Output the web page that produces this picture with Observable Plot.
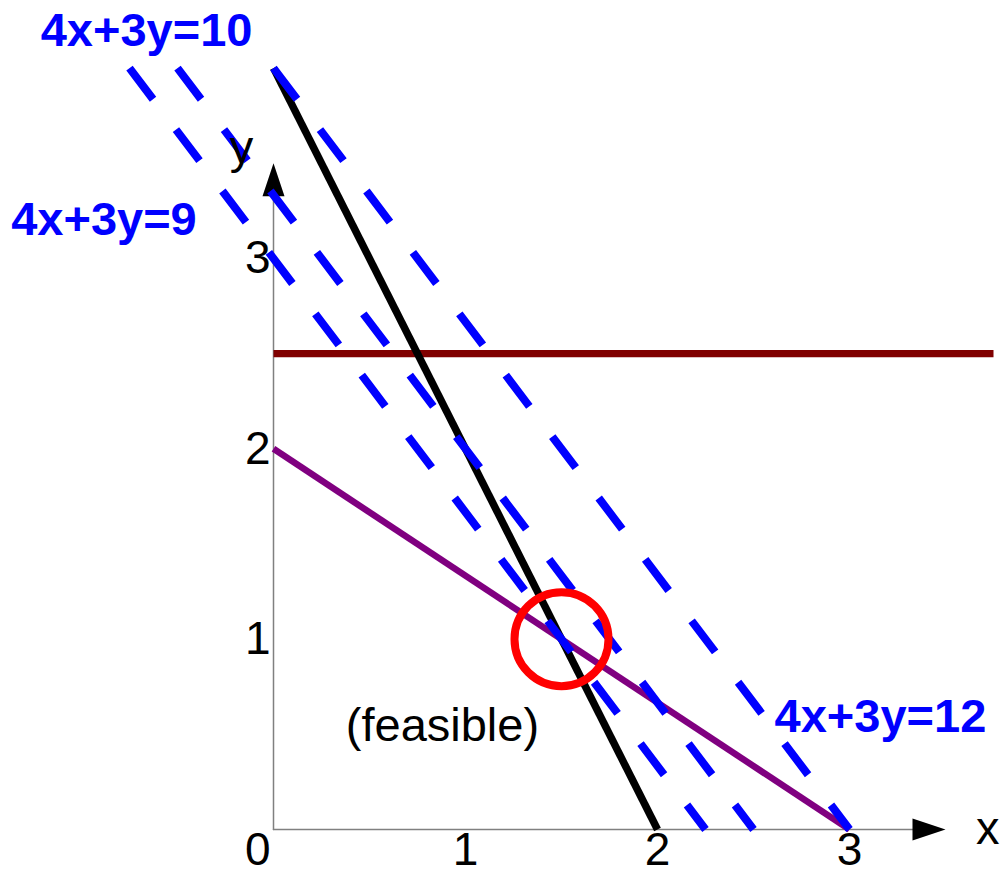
<!DOCTYPE html>
<html>
<head>
<meta charset="utf-8">
<script src="https://cdn.jsdelivr.net/npm/d3@7"></script>
<script src="https://cdn.jsdelivr.net/npm/@observablehq/plot@0.6"></script>
<style>
  html, body { margin: 0; padding: 0; background: white; }
  #chart svg { display: block; }
</style>
</head>
<body>
<div id="chart"></div>
<script>
// ---- data ----
const xTicks = [1, 2, 3];
const yTicks = [1, 2, 3];
const originLabel = [{x: 0, y: 0, text: "0"}];

// constraint lines (endpoints)
const blackLine  = [{x: 0, y: 4}, {x: 2, y: 0}];         // 2x + y = 4
const purpleLine = [{x: 0, y: 2}, {x: 3, y: 0}];         // 2x + 3y = 6
const darkRedLine = [{x: 0, y: 2.5}, {x: 3.75, y: 2.5}]; // y = 2.5

// objective level lines (dashed)
const level9  = [{x: -0.75, y: 4}, {x: 2.25, y: 0}];
const level10 = [{x: -0.5,  y: 4}, {x: 2.5,  y: 0}];
const level12 = [{x: 0,     y: 4}, {x: 3,    y: 0}];

// optimum
const optimum = [{x: 1.5, y: 1}];

// axes
const xAxisLine = [{x: 0, y: 0}, {x: 3.33, y: 0}];
const yAxisLine = [{x: 0, y: 0}, {x: 0, y: 3.34}];
const arrowTips = [{x: 3.5, y: 0, rot: 0}, {x: 0, y: 3.5, rot: -90}];

// labels
const levelLabels = [
  {x: -0.661, y: 4.116, text: "4x+3y=10"},
  {x: -0.883, y: 3.126, text: "4x+3y=9"},
  {x: 3.161,  y: 0.511, text: "4x+3y=12"}
];
const plainLabels = [
  {x: 0.88,   y: 0.465,  text: "(feasible)"},
  {x: 3.72,   y: -0.074, text: "x"},
  {x: -0.167, y: 3.5,    text: "y"}
];

// ---- chart ----
const FONT = "'Liberation Sans', Arial, Helvetica, sans-serif";
const arrowHead = {
  draw(ctx) {
    ctx.moveTo(0, 0);
    ctx.lineTo(-33, -11);
    ctx.lineTo(-33, 11);
    ctx.closePath();
  }
};
const dashStyle = {x: "x", y: "y", stroke: "#0000ff", strokeWidth: 8, strokeDasharray: "39,38", strokeLinecap: "butt"};

const chart = Plot.plot({
  width: 1000,
  height: 869,
  margin: 0,
  style: {background: "white", fontFamily: FONT},
  x: {domain: [0, 3], range: [273, 849], axis: null},
  y: {domain: [0, 3], range: [829, 258], axis: null},
  marks: [
    Plot.line(xAxisLine, {x: "x", y: "y", stroke: "#808080", strokeWidth: 1.5}),
    Plot.line(yAxisLine, {x: "x", y: "y", stroke: "#808080", strokeWidth: 1.5}),
    Plot.dot(arrowTips, {x: "x", y: "y", symbol: arrowHead, rotate: "rot", fill: "black", stroke: "none"}),
    Plot.line(darkRedLine, {x: "x", y: "y", stroke: "#800000", strokeWidth: 7.3, strokeLinecap: "butt"}),
    Plot.line(purpleLine, {x: "x", y: "y", stroke: "#800080", strokeWidth: 6.5, strokeLinecap: "butt"}),
    Plot.line(blackLine, {x: "x", y: "y", stroke: "black", strokeWidth: 7.5, strokeLinecap: "butt"}),
    Plot.line(level9, dashStyle),
    Plot.line(level10, dashStyle),
    Plot.line(level12, dashStyle),
    Plot.dot(optimum, {x: "x", y: "y", r: 47, stroke: "#ff0000", strokeWidth: 8, fill: "none"}),
    // tick labels
    Plot.text(xTicks, {x: d => d, y: 0, text: d => String(d), fontSize: 46, lineAnchor: "top", dy: 3, fill: "black"}),
    Plot.text(yTicks, {x: 0, y: d => d, text: d => String(d), fontSize: 46, textAnchor: "end", dx: -3, fill: "black"}),
    Plot.text(originLabel, {x: "x", y: "y", text: "text", fontSize: 46, textAnchor: "end", lineAnchor: "top", dx: -3, dy: 3, fill: "black"}),
    // annotations
    Plot.text(levelLabels, {x: "x", y: "y", text: "text", fontSize: 47, fontWeight: "bold", fill: "#0000ff", lineAnchor: "bottom"}),
    Plot.text(plainLabels, {x: "x", y: "y", text: "text", fontSize: 47, fill: "black", lineAnchor: "bottom"})
  ]
});
document.getElementById("chart").appendChild(chart);
</script>
</body>
</html>
